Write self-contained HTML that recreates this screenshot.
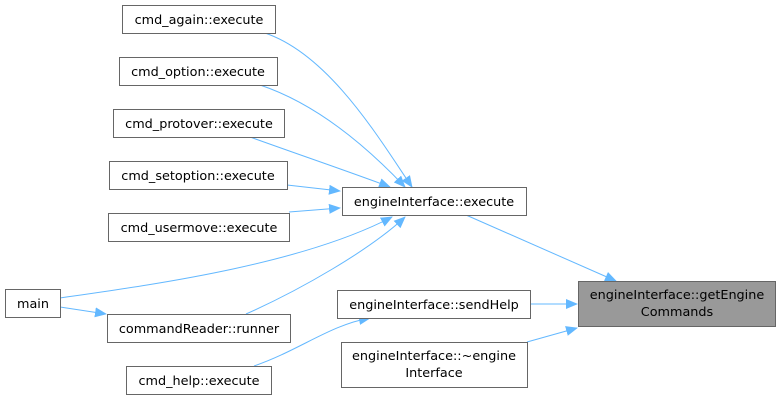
<!DOCTYPE html>
<html><head><meta charset="utf-8"><style>
html,body{margin:0;padding:0;background:#fff;}
text{font-family:"DejaVu Sans","Liberation Sans",sans-serif;font-size:12.8px;fill:#000;}
</style></head><body>
<svg width="780" height="400" viewBox="0 0 780 400" xmlns="http://www.w3.org/2000/svg">
<defs><marker id="a" markerWidth="12" markerHeight="10" refX="11" refY="5" orient="auto" markerUnits="userSpaceOnUse"><path d="M0,0 L12,5 L0,10 Z" fill="#63b8ff"/></marker></defs>
<g fill="none" stroke="#63b8ff" stroke-width="1" marker-end="url(#a)">
<path d="M265,33 C330,55 380,140 412,187"/>
<path d="M260,85 C320,105 370,150 405,187"/>
<path d="M250,137 C300,155 350,172 390,187"/>
<path d="M287,185 L340,191"/>
<path d="M289,212 L340,208"/>
<path d="M60,298 C150,285 300,265 392,217"/>
<path d="M246,314 C300,290 370,250 405,217"/>
<path d="M60,307 L106,314"/>
<path d="M254,366 C300,350 330,325 370,318"/>
<path d="M466,215 L616,281"/>
<path d="M530,304 L577,304"/>
<path d="M527,342 L577,328"/>
</g>
<g fill="#fff" stroke="#666" stroke-width="1">
<rect x="122.5" y="5.5" width="153" height="28"/>
<rect x="119.5" y="57.5" width="158" height="28"/>
<rect x="113.5" y="109.5" width="171" height="28"/>
<rect x="109.5" y="161.5" width="178" height="28"/>
<rect x="108.5" y="213.5" width="181" height="28"/>
<rect x="5.5" y="289.5" width="55" height="28"/>
<rect x="107.5" y="314.5" width="183" height="28"/>
<rect x="126.5" y="366.5" width="145" height="28"/>
<rect x="342.5" y="187.5" width="184" height="28"/>
<rect x="337.5" y="290.5" width="193" height="28"/>
<rect x="341.5" y="342.5" width="186" height="45"/>
<rect x="578.5" y="281.5" width="197" height="45" fill="#999"/>
</g>
<g text-anchor="middle">
<text x="199" y="24">cmd_again::execute</text>
<text x="198" y="76">cmd_option::execute</text>
<text x="199" y="128">cmd_protover::execute</text>
<text x="198" y="180">cmd_setoption::execute</text>
<text x="199" y="232">cmd_usermove::execute</text>
<text x="33" y="308">main</text>
<text x="199" y="333">commandReader::runner</text>
<text x="199" y="385">cmd_help::execute</text>
<text x="434" y="206">engineInterface::execute</text>
<text x="434" y="309">engineInterface::sendHelp</text>
<text x="434" y="360">engineInterface::~engine</text>
<text x="434" y="377">Interface</text>
<text x="677" y="299">engineInterface::getEngine</text>
<text x="677" y="316">Commands</text>
</g>
</svg>
</body></html>
